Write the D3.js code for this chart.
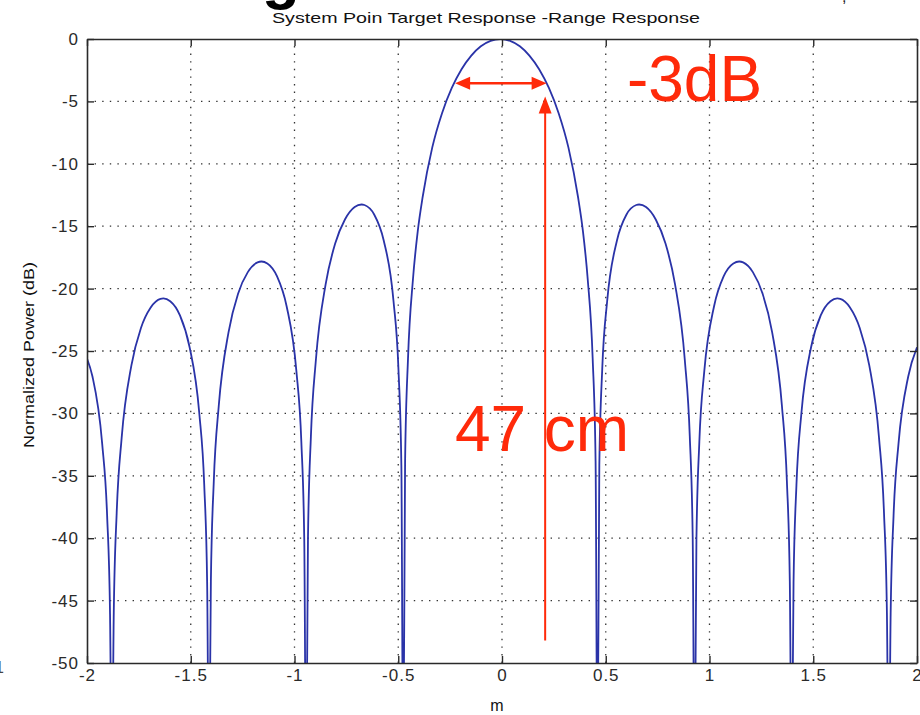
<!DOCTYPE html>
<html>
<head>
<meta charset="utf-8">
<script src="https://cdn.jsdelivr.net/npm/d3@7"></script>
<style>
  html, body { margin: 0; padding: 0; background: #fff; }
  svg { display: block; }
  text { font-family: "Liberation Sans", Arial, Helvetica, sans-serif; }
</style>
</head>
<body>
<svg id="chart" width="920" height="715"></svg>
<script>
// ---- data ----
const rangeM = [
  -2.000, -1.974, -1.927, -1.903, -1.889, -1.880, -1.871, -1.857, -1.833, -1.786,
  -1.740, -1.693, -1.646, -1.632, -1.599, -1.552, -1.506, -1.459, -1.435, -1.421,
  -1.412, -1.403, -1.389, -1.365, -1.318, -1.272, -1.225, -1.178, -1.159, -1.131,
  -1.084, -1.038, -0.991, -0.967, -0.953, -0.944, -0.935, -0.921, -0.897, -0.850,
  -0.804, -0.757, -0.710, -0.677, -0.663, -0.616, -0.570, -0.523, -0.499, -0.485,
  -0.476, -0.467, -0.453, -0.429, -0.406, -0.382, -0.336, -0.289, -0.242, -0.195,
  -0.148, -0.102, -0.055, -0.008, 0.039, 0.086, 0.132, 0.179, 0.226, 0.273,
  0.320, 0.366, 0.390, 0.413, 0.437, 0.451, 0.460, 0.469, 0.483, 0.507,
  0.554, 0.600, 0.647, 0.661, 0.694, 0.741, 0.788, 0.834, 0.881, 0.905,
  0.919, 0.928, 0.937, 0.951, 0.975, 1.022, 1.068, 1.115, 1.143, 1.162,
  1.209, 1.256, 1.302, 1.349, 1.373, 1.387, 1.396, 1.405, 1.419, 1.443,
  1.490, 1.536, 1.583, 1.616, 1.630, 1.677, 1.724, 1.770, 1.817, 1.841,
  1.855, 1.864, 1.873, 1.887, 1.911, 1.958, 2.000
];
const powerDb = [
  -25.6, -27.02, -32.40, -38.21, -46.07, -60, -45.98, -37.99, -31.96, -26.15,
  -23.15, -21.51, -20.82, -20.79, -21.01, -22.15, -24.66, -29.97, -35.74, -43.59,
  -60, -43.47, -35.45, -29.39, -23.50, -20.41, -18.68, -17.90, -17.83, -17.98,
  -19.02, -21.41, -26.59, -32.29, -40.09, -60, -39.92, -31.86, -25.72, -19.66,
  -16.39, -14.46, -13.46, -13.26, -13.30, -14.06, -16.14, -20.97, -26.48, -34.16,
  -60, -33.81, -25.61, -19.23, -15.39, -12.62, -8.686, -5.942, -3.922, -2.420,
  -1.326, -0.579, -0.144, 0, -0.144, -0.579, -1.326, -2.420, -3.922, -5.942,
  -8.686, -12.62, -15.39, -19.23, -25.61, -33.81, -60, -34.16, -26.48, -20.97,
  -16.14, -14.06, -13.30, -13.26, -13.46, -14.46, -16.39, -19.66, -25.72, -31.86,
  -39.92, -60, -40.09, -32.29, -26.59, -21.41, -19.02, -17.98, -17.83, -17.90,
  -18.68, -20.41, -23.50, -29.39, -35.45, -43.47, -60, -43.59, -35.74, -29.97,
  -24.66, -22.15, -21.01, -20.79, -20.82, -21.51, -23.15, -26.15, -31.96, -37.99,
  -45.98, -60, -46.07, -38.21, -32.40, -27.02, -24.7
];
const xTicks = [-2, -1.5, -1, -0.5, 0, 0.5, 1, 1.5, 2];
const xTickLabels = ["-2", "-1.5", "-1", "-0.5", "0", "0.5", "1", "1.5", "2"];
const yTicks = [0, -5, -10, -15, -20, -25, -30, -35, -40, -45, -50];
const yTickLabels = ["0", "-5", "-10", "-15", "-20", "-25", "-30", "-35", "-40", "-45", "-50"];
const titleText = "System Poin Target Response -Range Response";
const xLabel = "m";
const yLabel = "Normalized Power (dB)";
// annotations (data coordinates)
const widthArrow = { x1: -0.226, x2: 0.215, db: -3.55 };
const heightArrow = { x: 0.208, dbTop: -4.6, dbBottom: -48.2 };
const annoLabels = [
  { text: "-3dB", x: 0.602, db: -4.95 },
  { text: "47 cm", x: -0.227, db: -33.0 }
];

// ---- layout ----
const svg = d3.select("#chart");
const L = 87, R = 917, T = 39, B = 663;
const xs = d3.scaleLinear().domain([-2, 2]).range([L, R]);
const ys = d3.scaleLinear().domain([-50, 0]).range([B, T]);
const red = "#ff2a0a";
const axisColor = "#2a2a2a";

// cut-off slide heading fragments at top (partially outside the picture, as in the source)
svg.append("text").attr("x", 262).attr("y", -3).attr("font-size", 62)
  .attr("font-weight", "bold").attr("fill", "#000").text("g");
svg.append("text").attr("x", 842).attr("y", 2).attr("font-size", 16)
  .attr("fill", "#222").text(",");
svg.append("text").attr("x", -5).attr("y", 673).attr("font-size", 16)
  .attr("fill", "#444").text("1");

// clip
svg.append("defs").append("clipPath").attr("id", "plotclip")
  .append("rect").attr("x", L).attr("y", T).attr("width", R - L).attr("height", B - T);

// grid (dotted)
const grid = svg.append("g").attr("stroke", "#333").attr("stroke-width", 1.3)
  .attr("stroke-dasharray", "1.4 6.2");
grid.selectAll("line.vx").data(xTicks.slice(1, -1)).join("line")
  .attr("x1", d => xs(d)).attr("x2", d => xs(d)).attr("y1", B).attr("y2", T);
grid.selectAll("line.hy").data(yTicks.slice(1, -1)).join("line")
  .attr("x1", L).attr("x2", R).attr("y1", d => ys(d)).attr("y2", d => ys(d));

// curve
const pts = rangeM.map((m, i) => [m, powerDb[i]]);
const lineGen = d3.line().x(d => xs(d[0])).y(d => ys(d[1])).curve(d3.curveMonotoneX);
svg.append("path").datum(pts).attr("clip-path", "url(#plotclip)")
  .attr("fill", "none").attr("stroke", "#2a33a8").attr("stroke-width", 1.8)
  .attr("d", lineGen);

// axes with inward ticks
const fmtX = d => xTickLabels[xTicks.indexOf(d)];
const fmtY = d => yTickLabels[yTicks.indexOf(d)];
const gBottom = svg.append("g").attr("transform", `translate(0,${B})`)
  .call(d3.axisBottom(xs).tickValues(xTicks).tickFormat(fmtX).tickSizeInner(-7).tickSizeOuter(0).tickPadding(6));
const gTop = svg.append("g").attr("transform", `translate(0,${T})`)
  .call(d3.axisTop(xs).tickValues(xTicks).tickFormat("").tickSizeInner(-7).tickSizeOuter(0));
const gLeft = svg.append("g").attr("transform", `translate(${L},0)`)
  .call(d3.axisLeft(ys).tickValues(yTicks).tickFormat(fmtY).tickSizeInner(-7).tickSizeOuter(0).tickPadding(8));
const gRight = svg.append("g").attr("transform", `translate(${R},0)`)
  .call(d3.axisRight(ys).tickValues(yTicks).tickFormat("").tickSizeInner(-7).tickSizeOuter(0));
[gBottom, gTop, gLeft, gRight].forEach(g => {
  g.select(".domain").attr("stroke", axisColor).attr("stroke-width", 1.6);
  g.selectAll(".tick line").attr("stroke", axisColor).attr("stroke-width", 1.4);
  g.selectAll(".tick text").attr("fill", "#2a2a2a").attr("font-size", 17)
    .attr("font-family", "'Liberation Sans', Arial, sans-serif").attr("letter-spacing", 1);
});

// title and axis labels
svg.append("text").attr("x", 486).attr("y", 23).attr("text-anchor", "middle")
  .attr("font-size", 15).attr("fill", "#111").attr("textLength", 428)
  .attr("lengthAdjust", "spacingAndGlyphs").text(titleText);
svg.append("text").attr("x", 497).attr("y", 711).attr("text-anchor", "middle")
  .attr("font-size", 16).attr("fill", "#111").text(xLabel);
svg.append("text").attr("transform", `translate(34,355) rotate(-90)`)
  .attr("text-anchor", "middle").attr("font-size", 14).attr("fill", "#111")
  .attr("textLength", 186).attr("lengthAdjust", "spacingAndGlyphs").text(yLabel);

// red annotations
const anno = svg.append("g");
const hy = ys(widthArrow.db), hx1 = xs(widthArrow.x1), hx2 = xs(widthArrow.x2);
const head = 15, half = 6.5;
anno.append("line").attr("x1", hx1 + head - 2).attr("x2", hx2 - head + 2)
  .attr("y1", hy).attr("y2", hy).attr("stroke", red).attr("stroke-width", 2.6);
anno.append("path").attr("fill", red)
  .attr("d", `M${hx1},${hy} L${hx1 + head},${hy - half} L${hx1 + head},${hy + half} Z`);
anno.append("path").attr("fill", red)
  .attr("d", `M${hx2},${hy} L${hx2 - head},${hy - half} L${hx2 - head},${hy + half} Z`);
const vx = xs(heightArrow.x), vyT = ys(heightArrow.dbTop), vyB = ys(heightArrow.dbBottom);
anno.append("line").attr("x1", vx).attr("x2", vx).attr("y1", vyB).attr("y2", vyT + head - 2)
  .attr("stroke", red).attr("stroke-width", 2);
anno.append("path").attr("fill", red)
  .attr("d", `M${vx},${vyT} L${vx - half},${vyT + head + 2} L${vx + half},${vyT + head + 2} Z`);
anno.selectAll("text.lbl").data(annoLabels).join("text")
  .attr("x", d => xs(d.x)).attr("y", d => ys(d.db))
  .attr("font-size", 64).attr("fill", red).text(d => d.text);
</script>
</body>
</html>
